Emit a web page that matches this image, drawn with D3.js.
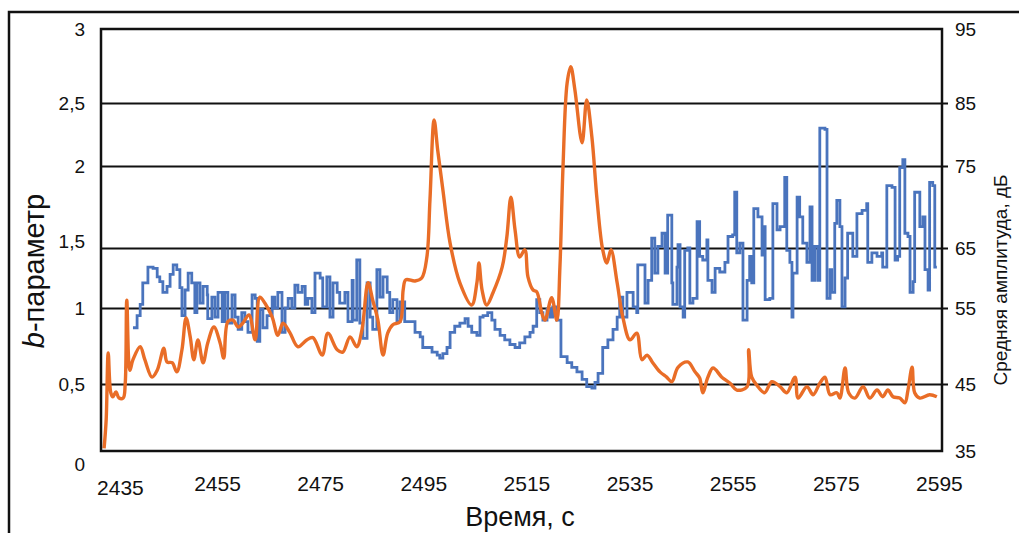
<!DOCTYPE html>
<html>
<head>
<meta charset="utf-8">
<script src="https://cdn.jsdelivr.net/npm/d3@7"></script>
<style>
  body { margin: 0; background: #fff; }
  text { font-family: "Liberation Sans", Arial, sans-serif; fill: #111; }
</style>
</head>
<body>
<svg id="chart" width="1019" height="533"></svg>
<script>
// axis ticks
const bTicks = [0, 0.5, 1, 1.5, 2, 2.5, 3];
const dbTicks = [35, 45, 55, 65, 75, 85, 95];
const timeTicks = [2435, 2455, 2475, 2495, 2515, 2535, 2555, 2575, 2595];

// b-parameter (step line, left axis)
const bTime = [2438.7, 2439.5, 2440.1, 2440.6, 2441.6, 2442.6, 2443.4, 2443.9, 2444.5, 2445.3,
  2445.9, 2446.5, 2447.2, 2447.8, 2448.2, 2448.8, 2449.4, 2450.1, 2450.7, 2451.1,
  2451.7, 2452.3, 2453.1, 2453.2, 2454.0, 2454.6, 2455.2, 2456.0, 2456.5, 2457.1,
  2457.9, 2458.5, 2459.1, 2459.8, 2460.4, 2461.0, 2461.8, 2462.4, 2462.8, 2463.3,
  2463.9, 2464.7, 2465.7, 2466.2, 2466.8, 2467.6, 2468.2, 2468.8, 2469.5, 2470.1,
  2470.7, 2471.5, 2472.1, 2472.6, 2473.4, 2474.0, 2475.0, 2475.5, 2476.3, 2476.9,
  2477.5, 2478.3, 2478.8, 2479.8, 2480.4, 2481.2, 2481.4, 2482.1, 2482.7, 2483.3,
  2484.1, 2484.7, 2485.2, 2486.0, 2486.6, 2487.2, 2488.0, 2488.5, 2489.1, 2489.9,
  2490.5, 2491.4, 2492.4, 2493.4, 2494.4, 2494.9, 2495.9, 2496.7, 2497.7, 2498.2,
  2498.8, 2499.6, 2500.2, 2501.1, 2502.1, 2503.1, 2503.7, 2504.4, 2505.4, 2506.0,
  2506.6, 2507.5, 2508.3, 2508.9, 2509.9, 2510.8, 2511.8, 2512.8, 2513.7, 2514.7,
  2515.7, 2516.3, 2517.0, 2517.6, 2518.2, 2519.0, 2519.6, 2520.1, 2520.9, 2521.7,
  2522.9, 2523.8, 2524.8, 2525.8, 2526.7, 2527.7, 2528.3, 2528.9, 2529.8, 2530.8,
  2531.8, 2532.6, 2533.1, 2533.7, 2534.5, 2535.5, 2535.7, 2536.4, 2536.6, 2537.6,
  2538.0, 2538.6, 2539.3, 2539.9, 2540.5, 2541.3, 2541.9, 2542.4, 2543.2, 2543.4,
  2544.2, 2544.4, 2544.8, 2545.4, 2545.7, 2546.3, 2546.7, 2547.3, 2548.1, 2548.6,
  2549.2, 2550.0, 2550.2, 2551.0, 2551.6, 2552.5, 2553.5, 2554.1, 2555.0, 2555.4,
  2555.8, 2556.4, 2557.0, 2557.8, 2558.3, 2558.7, 2559.1, 2559.9, 2560.7, 2560.9,
  2561.3, 2562.2, 2562.8, 2563.6, 2564.2, 2565.1, 2565.5, 2566.1, 2566.5, 2566.7,
  2567.5, 2568.0, 2568.6, 2569.4, 2570.0, 2570.4, 2570.9, 2571.5, 2571.9, 2572.9,
  2573.3, 2573.9, 2574.2, 2574.8, 2575.2, 2575.8, 2576.2, 2576.8, 2577.3, 2578.3,
  2579.1, 2580.1, 2581.0, 2581.2, 2582.0, 2583.0, 2583.9, 2584.1, 2584.9, 2585.9,
  2586.5, 2587.0, 2587.4, 2588.0, 2588.4, 2589.0, 2589.4, 2590.0, 2590.3, 2590.9,
  2591.3, 2591.9, 2592.3, 2592.9, 2593.2, 2593.8, 2594.2, 2594.6];
const bValue = [0.87, 0.95, 1.03, 1.21, 1.34, 1.33, 1.26, 1.22, 1.13, 1.18,
  1.28, 1.36, 1.32, 1.17, 0.95, 1.15, 1.29, 1.21, 0.97, 1.21,
  1.04, 1.18, 1.11, 0.93, 1.09, 0.94, 1.13, 0.91, 1.13, 0.90,
  1.11, 0.94, 0.86, 0.97, 0.91, 0.84, 1.11, 1.08, 0.78, 0.99,
  0.87, 0.95, 1.09, 1.00, 1.13, 0.84, 1.00, 1.08, 1.00, 1.19,
  1.13, 1.18, 1.03, 1.08, 0.97, 1.29, 1.25, 1.01, 1.26, 0.94,
  1.21, 1.13, 1.04, 1.13, 0.91, 1.23, 0.92, 1.40, 0.90, 0.80,
  1.21, 0.94, 0.86, 1.32, 1.09, 1.26, 1.13, 0.97, 1.07, 0.91,
  1.05, 0.91, 0.91, 0.84, 0.81, 0.74, 0.74, 0.71, 0.69, 0.67,
  0.70, 0.74, 0.84, 0.88, 0.90, 0.93, 0.88, 0.84, 0.82, 0.94,
  0.95, 0.97, 0.92, 0.86, 0.82, 0.79, 0.76, 0.74, 0.77, 0.81,
  0.84, 0.88, 1.07, 0.97, 0.92, 0.99, 0.94, 1.01, 0.92, 0.68,
  0.64, 0.61, 0.58, 0.53, 0.48, 0.47, 0.51, 0.57, 0.74, 0.79,
  0.86, 0.94, 1.09, 0.94, 1.13, 1.13, 1.01, 0.97, 1.36, 1.36,
  1.04, 1.23, 1.56, 1.29, 1.51, 1.59, 1.29, 1.70, 1.21, 1.03,
  1.34, 1.52, 1.01, 0.94, 1.48, 1.50, 1.04, 1.08, 1.66, 1.43,
  1.40, 1.55, 1.23, 1.13, 1.33, 1.30, 1.38, 1.57, 1.58, 1.84,
  1.46, 1.53, 0.92, 1.23, 1.43, 1.21, 1.74, 1.69, 1.44, 1.63,
  1.07, 1.08, 1.77, 1.61, 1.63, 1.93, 1.48, 1.38, 0.94, 1.29,
  1.81, 1.69, 1.53, 1.38, 1.75, 1.23, 1.51, 1.23, 2.30, 2.29,
  1.08, 1.32, 1.13, 1.65, 1.79, 1.63, 1.01, 1.25, 1.59, 1.43,
  1.71, 1.73, 1.77, 1.38, 1.46, 1.43, 1.46, 1.34, 1.88, 1.87,
  1.40, 1.43, 1.99, 2.05, 1.59, 1.57, 1.13, 1.22, 1.84, 1.84,
  1.63, 1.69, 1.32, 1.15, 1.90, 1.88, 1.34, 1.34];

// mean amplitude, dB (smooth line, right axis)
const ampTime = [2433.1, 2433.5, 2433.9, 2434.4, 2434.8, 2435.4, 2436.0, 2436.8, 2437.2, 2437.5,
  2438.1, 2438.7, 2440.1, 2441.0, 2442.4, 2443.4, 2444.7, 2445.3, 2446.3, 2447.2,
  2448.2, 2449.0, 2449.8, 2450.5, 2451.3, 2452.3, 2453.2, 2454.4, 2455.6, 2456.3,
  2457.1, 2458.1, 2459.1, 2460.0, 2461.2, 2462.4, 2463.3, 2464.3, 2465.7, 2466.8,
  2467.8, 2469.1, 2470.7, 2472.4, 2473.6, 2475.4, 2476.5, 2478.3, 2479.4, 2480.8,
  2482.1, 2483.1, 2484.3, 2485.2, 2486.2, 2487.2, 2488.1, 2489.1, 2490.5, 2491.1,
  2491.6, 2493.4, 2494.7, 2495.7, 2496.3, 2497.1, 2497.8, 2498.8, 2500.2, 2502.1,
  2504.4, 2505.4, 2505.8, 2506.4, 2507.3, 2508.5, 2510.3, 2511.2, 2512.0, 2512.8,
  2513.7, 2514.7, 2515.3, 2516.3, 2517.0, 2518.0, 2518.6, 2519.9, 2520.9, 2521.5,
  2522.1, 2522.9, 2523.6, 2524.4, 2525.8, 2526.7, 2527.7, 2528.7, 2529.8, 2530.6,
  2531.4, 2532.6, 2533.7, 2535.1, 2536.4, 2537.4, 2538.4, 2539.5, 2540.9, 2542.2,
  2543.2, 2544.4, 2546.3, 2547.7, 2548.6, 2549.2, 2550.2, 2551.2, 2552.9, 2554.5,
  2555.8, 2557.8, 2558.1, 2558.7, 2559.9, 2561.2, 2562.6, 2564.2, 2565.5, 2567.1,
  2567.7, 2569.4, 2570.6, 2571.9, 2572.9, 2573.9, 2575.2, 2575.8, 2576.8, 2577.5,
  2578.7, 2580.3, 2581.6, 2583.0, 2584.1, 2585.1, 2586.1, 2587.4, 2588.4, 2589.0,
  2589.8, 2590.3, 2591.3, 2593.2, 2594.6];
const ampValue = [35.4, 39.6, 49.1, 43.7, 43.1, 43.8, 42.9, 42.9, 45.1, 56.3,
  46.8, 48.2, 49.9, 48.2, 45.9, 46.8, 49.7, 47.9, 47.8, 46.6,
  49.5, 53.7, 51.2, 48.2, 50.8, 47.8, 50.4, 52.5, 50.4, 48.4,
  53.2, 53.4, 52.5, 53.0, 54.1, 50.8, 56.8, 55.8, 53.8, 51.4,
  53.0, 51.8, 49.9, 50.8, 51.1, 48.8, 51.7, 49.5, 49.2, 51.2,
  49.9, 52.1, 59.2, 56.3, 53.4, 48.8, 51.7, 52.8, 53.2, 58.0,
  59.7, 59.5, 60.0, 63.5, 70.9, 82.3, 77.5, 72.1, 65.6, 59.2,
  55.5, 59.2, 62.5, 58.0, 55.5, 57.5, 61.8, 66.3, 71.2, 67.2,
  63.5, 64.7, 60.2, 58.0, 57.7, 54.3, 53.4, 56.7, 53.4, 61.8,
  74.9, 87.7, 89.9, 86.8, 78.7, 85.4, 79.6, 70.9, 64.7, 62.5,
  64.7, 59.2, 53.8, 50.8, 51.7, 48.2, 48.8, 47.8, 46.6, 45.9,
  45.3, 47.2, 47.9, 46.6, 45.8, 43.7, 45.9, 47.1, 45.9, 45.1,
  44.1, 44.6, 49.5, 45.9, 44.6, 43.7, 45.3, 44.6, 43.7, 45.9,
  42.9, 44.6, 43.4, 45.1, 45.9, 43.4, 43.7, 42.9, 47.1, 43.7,
  42.9, 44.6, 42.9, 44.1, 43.1, 44.1, 43.1, 42.9, 42.2, 44.1,
  47.2, 43.7, 42.9, 43.4, 43.1];

const bData = bTime.map((t, i) => ({t: t, v: bValue[i]}));
const ampData = ampTime.map((t, i) => ({t: t, v: ampValue[i]}));

const plotLeft = 101, plotRight = 942, plotTop = 29, plotBottom = 451;
// gridlines in the source are not evenly spaced
const gridY = [451, 384, 308, 248, 166, 103, 29];

const x = d3.scaleLinear().domain([2432.5, 2595.6]).range([plotLeft, plotRight]);
const yB = d3.scaleLinear().domain(bTicks).range(gridY);
const yDb = d3.scaleLinear().domain(dbTicks).range(gridY);

const svg = d3.select("#chart");

// outer frame
svg.append("rect")
  .attr("x", 9).attr("y", 12).attr("width", 1030).attr("height", 540)
  .attr("fill", "none").attr("stroke", "#111").attr("stroke-width", 2.5);

// gridlines + right tick marks
svg.append("g")
  .attr("transform", "translate(" + plotLeft + ",0)")
  .call(d3.axisRight(yB).tickValues([0.5, 1, 1.5, 2, 2.5]).tickSize(plotRight - plotLeft + 6).tickFormat(""))
  .call(g => g.select(".domain").remove())
  .call(g => g.selectAll("line").attr("stroke", "#111").attr("stroke-width", 1.8));

// left axis labels
svg.append("g")
  .attr("transform", "translate(" + plotLeft + ",0)")
  .call(d3.axisLeft(yB).tickValues(bTicks).tickSize(0).tickPadding(16)
    .tickFormat(d => String(d).replace(".", ",")))
  .call(g => g.select(".domain").remove())
  .call(g => g.selectAll("text").attr("font-size", 19).attr("font-family", "Liberation Sans, Arial, sans-serif")
    .attr("fill", "#222").attr("dy", d => d === 0 ? "1.05em" : d === 1.5 ? "-0.05em" : "0.32em"));

// right axis labels
svg.append("g")
  .attr("transform", "translate(" + plotRight + ",0)")
  .call(d3.axisRight(yDb).tickValues(dbTicks).tickSize(0).tickPadding(13))
  .call(g => g.select(".domain").remove())
  .call(g => g.selectAll("text").attr("font-size", 19).attr("font-family", "Liberation Sans, Arial, sans-serif")
    .attr("fill", "#222"));

// bottom axis labels
svg.append("g")
  .attr("transform", "translate(0," + plotBottom + ")")
  .call(d3.axisBottom(x).tickValues(timeTicks).tickSize(0).tickPadding(25).tickFormat(d3.format("d")))
  .call(g => g.select(".domain").remove())
  .call(g => g.selectAll("text").attr("font-size", 21).attr("font-family", "Liberation Sans Narrow, Liberation Sans, Arial, sans-serif")
    .attr("fill", "#222")
    .attr("dx", d => d === 2435 ? 6 : 0)
    .attr("dy", d => d === 2435 ? "0.9em" : "0.71em"));

// data lines
const bLine = d3.line().x(d => x(d.t)).y(d => yB(d.v)).curve(d3.curveStepAfter);
const ampLine = d3.line().x(d => x(d.t)).y(d => yDb(d.v)).curve(d3.curveCatmullRom.alpha(0.5));

svg.append("path")
  .datum(bData)
  .attr("fill", "none")
  .attr("stroke", "#4a74bd")
  .attr("stroke-width", 2.8)
  .attr("d", bLine);

svg.append("path")
  .datum(ampData)
  .attr("fill", "none")
  .attr("stroke", "#e96d27")
  .attr("stroke-width", 3.4)
  .attr("stroke-linejoin", "round")
  .attr("d", ampLine);

// plot frame
svg.append("rect")
  .attr("x", plotLeft).attr("y", plotTop).attr("width", plotRight - plotLeft).attr("height", plotBottom - plotTop)
  .attr("fill", "none").attr("stroke", "#111").attr("stroke-width", 2.5);

// axis titles
const bTitle = svg.append("text")
  .attr("transform", "translate(44,271) rotate(-90)")
  .attr("text-anchor", "middle")
  .attr("font-size", 29);
bTitle.append("tspan").attr("font-style", "italic").text("b");
bTitle.append("tspan").text("-параметр");

svg.append("text")
  .attr("transform", "translate(1007,280) rotate(-90)")
  .attr("text-anchor", "middle")
  .attr("font-size", 19)
  .attr("font-family", "Open Sans, sans-serif")
  .text("Средняя амплитуда, дБ");

svg.append("text")
  .attr("x", 520).attr("y", 526)
  .attr("text-anchor", "middle")
  .attr("font-size", 27)
  .attr("font-family", "Open Sans, sans-serif")
  .text("Время, с");
</script>
</body>
</html>
